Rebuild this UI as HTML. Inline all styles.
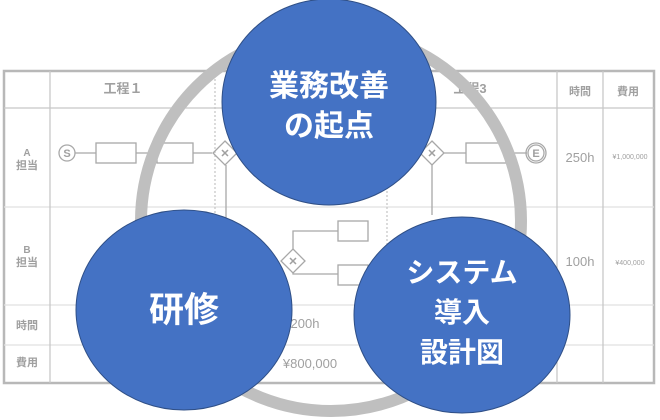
<!DOCTYPE html>
<html><head><meta charset="utf-8"><style>
html,body{margin:0;padding:0;background:#fff;}
svg{display:block;font-family:"Liberation Sans","Noto Sans CJK JP",sans-serif;}
</style></head><body>
<svg width="660" height="420" viewBox="0 0 660 420">
<g stroke="#c8c8c8" fill="none" stroke-width="1.3">
<rect x="4" y="71" width="650" height="312" stroke-width="2.5" stroke="#b8b8b8"/>
<line x1="4" y1="108" x2="654" y2="108"/>
<line x1="4" y1="207" x2="654" y2="207" stroke="#e0e0e0"/>
<line x1="4" y1="305" x2="654" y2="305" stroke="#e0e0e0"/>
<line x1="4" y1="345" x2="654" y2="345" stroke="#e0e0e0"/>
<line x1="50" y1="71" x2="50" y2="383"/>
<line x1="557" y1="71" x2="557" y2="383"/>
<line x1="603" y1="71" x2="603" y2="383"/>
<line x1="215" y1="71" x2="215" y2="305" stroke-dasharray="2,2"/>
<line x1="387" y1="71" x2="387" y2="305" stroke-dasharray="2,2"/>
</g>
<g fill="#a0a0a0" font-weight="bold" font-size="13" text-anchor="middle">
<text x="123" y="93">工程１</text><text x="470" y="93">工程3</text>
<text x="580" y="95" font-size="11">時間</text><text x="628" y="95" font-size="11">費用</text>
<text x="27" y="156" font-size="10">A</text><text x="27" y="169" font-size="11">担当</text>
<text x="27" y="253" font-size="10">B</text><text x="27" y="266" font-size="11">担当</text>
<text x="27" y="329" font-size="11">時間</text><text x="27" y="366" font-size="11">費用</text>
</g>
<g fill="#a0a0a0" font-size="13" text-anchor="middle">
<text x="580" y="162">250h</text><text x="630" y="159" font-size="7">¥1,000,000</text>
<text x="580" y="266">100h</text><text x="630" y="265" font-size="7">¥400,000</text>
<text x="305" y="328">200h</text><text x="310" y="368">¥800,000</text>
</g>
<g stroke="#a8a8a8" fill="none" stroke-width="1.3">
<circle cx="67" cy="153" r="8"/>
<line x1="75" y1="153" x2="96" y2="153"/><rect x="96" y="143" width="40" height="20"/>
<line x1="136" y1="153" x2="157" y2="153"/><rect x="157" y="143" width="36" height="20"/>
<line x1="193" y1="153" x2="212" y2="153"/><path d="M225 141 L237 153 L225 165 L213 153Z"/>
<line x1="226" y1="165" x2="226" y2="230"/>
<path d="M432 141 L444 153 L432 165 L420 153Z"/>
<line x1="444" y1="153" x2="466" y2="153"/><rect x="466" y="143" width="40" height="20"/>
<line x1="506" y1="153" x2="527" y2="153"/><circle cx="536" cy="153" r="8"/><circle cx="536" cy="153" r="10"/>
<line x1="432" y1="165" x2="432" y2="215"/>
<path d="M293 249 L305 261 L293 273 L281 261Z"/>
<polyline points="293,249 293,231 338,231"/><polyline points="293,273 293,274 338,274"/>
<rect x="338" y="221" width="30" height="20"/><rect x="338" y="265" width="30" height="20"/>
</g>
<g fill="#a0a0a0" font-size="11" font-weight="bold" text-anchor="middle">
<text x="67" y="157">S</text><text x="536" y="157">E</text>
<text x="225" y="157">✕</text><text x="432" y="157">✕</text><text x="293" y="265">✕</text>
</g>
<circle cx="331" cy="221" r="190" fill="none" stroke="#bfbfbf" stroke-width="12"/>
<g fill="#4472c4" stroke="#2f4f86" stroke-width="1">
<ellipse cx="329" cy="102" rx="107" ry="103"/>
<ellipse cx="184" cy="310" rx="108" ry="100"/>
<ellipse cx="462" cy="315" rx="108" ry="98"/>
</g>
<g fill="#fff" font-weight="bold" font-size="28" text-anchor="middle">
<text x="329" y="96" font-size="30">業務改善</text><text x="329" y="136" font-size="30">の起点</text>
<text x="184" y="322" font-size="35">研修</text>
<text x="462" y="282">システム</text><text x="462" y="322">導入</text><text x="462" y="362">設計図</text>
</g>
</svg>
</body></html>
